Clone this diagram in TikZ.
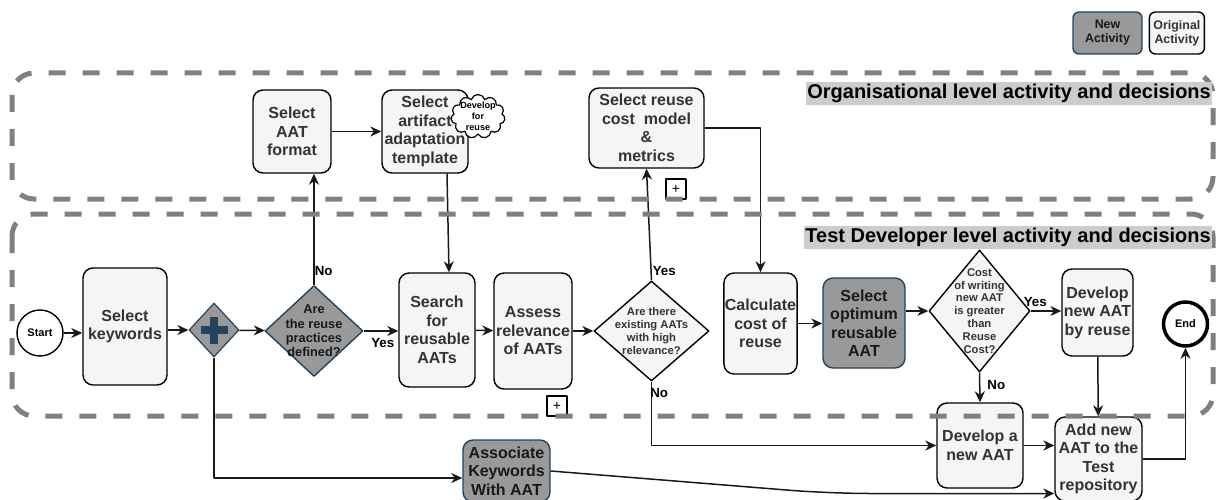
\documentclass[tikz,border=0pt]{standalone}
\usepackage{fontspec}
\setmainfont{Liberation Sans}
\usetikzlibrary{positioning, arrows.meta, shapes.geometric, shapes.symbols}

\definecolor{boxfill}{HTML}{F5F5F5}
\definecolor{boxtext}{HTML}{333333}
\definecolor{newfill}{HTML}{999999}
\definecolor{newline}{HTML}{23445D}
\definecolor{lanegray}{HTML}{808080}
\definecolor{headfill}{HTML}{CCCCCC}

\begin{document}
\begin{tikzpicture}[x=1pt, y=-1pt, line join=round,
			activity/.style={draw=black, line width=1.4pt, rectangle, rounded corners=10pt, fill=boxfill, text=boxtext, align=center, inner sep=1pt, font=\fontsize{16}{18.5}\selectfont\bfseries},
			newactivity/.style={activity, fill=newfill, draw=newline, text=black!90},
			decision/.style={draw=black, line width=1.4pt, diamond, fill=boxfill, text=boxtext, align=center, inner sep=-14pt, font=\fontsize{11.2}{12.9}\selectfont\bfseries},
			gateway/.style={diamond, draw=newline, line width=1.2pt, fill=newfill, minimum width=50pt, minimum height=54pt, inner sep=0pt},
			event/.style={circle, draw=black, line width=1.4pt, fill=white, minimum size=46pt, inner sep=0pt, font=\fontsize{11}{13}\selectfont\bfseries},
			subproc/.style={draw=black, line width=1.2pt, fill=white, minimum size=20pt, inner sep=0pt, font=\fontsize{14}{14}\selectfont},
			lane/.style={draw=lanegray, line width=5pt, dash pattern=on 17pt off 17pt, rounded corners=22pt},
			lanehead/.style={fill=headfill, text=black, inner sep=1pt, minimum height=23pt, font=\fontsize{20}{24}\selectfont\bfseries},
			arrow/.style={line width=1.5pt, draw=black!90, -{Stealth[length=11pt, width=10pt, inset=3.5pt]}},
			answer/.style={font=\fontsize{13.3}{15}\selectfont\bfseries, text=black, inner sep=1pt}
			]
			\useasboundingbox (0,0) rectangle (1218,500);
			% legend
			\node[newactivity, rounded corners=6pt, minimum width=69pt, minimum height=42pt, font=\fontsize{12.4}{14}\selectfont\bfseries] (legnew) at (1107.5,33) {New\\Activity};
			\node[activity, rounded corners=6pt, minimum width=55pt, minimum height=42pt, font=\fontsize{12.4}{14}\selectfont\bfseries, right=6pt of legnew] (legorig) {Original\\Activity};
			% organisational level
			\node[activity, minimum width=78pt, minimum height=83pt] (aatformat) at (292,131.5) {Select\\AAT\\format};
			\node[activity, minimum width=86pt, minimum height=83pt] (template) at (425,131.5) {Select\\artifact\\adaptation\\template};
			\node[cloud, cloud puffs=11, aspect=1.25, draw=black, line width=1.2pt, fill=white, minimum width=54pt, minimum height=44pt, inner sep=-6pt, align=center, font=\fontsize{9.1}{11}\selectfont\bfseries] (forreuse) at (478,116.5) {Develop\\for\\reuse};
			\node[activity, minimum width=115pt, minimum height=80pt] (costmodel) at (646.5,128) {Select reuse\\cost~ model\\\&\\metrics};
			\node[subproc] (plusa) at (676,189) {+};
			% test developer level
			\node[event] (start) at (40,333) {Start};
			\node[activity, minimum width=84pt, minimum height=117pt] (keywords) at (125,326.5) {Select\\keywords};
			\node[gateway] (plus) at (214,330) {};
			\draw[newline, line width=7.5pt] ([xshift=-13.5pt]plus.center) -- ([xshift=13.5pt]plus.center);
			\draw[newline, line width=7.5pt] ([yshift=-13.5pt]plus.center) -- ([yshift=13.5pt]plus.center);
			\node[decision, fill=newfill, draw=newline, text=black!90, minimum width=98pt, minimum height=91pt, font=\fontsize{12.8}{14.3}\selectfont\bfseries] (practices) at (314,331) {Are\\the reuse\\practices\\defined?};
			\node[activity, minimum width=76pt, minimum height=114pt] (search) at (437,330) {Search\\for\\reusable\\AATs};
			\node[activity, minimum width=78pt, minimum height=116pt] (assess) at (533,331) {Assess\\relevance\\of AATs};
			\node[subproc] (plusb) at (557,406) {+};
			\node[decision, minimum width=115pt, minimum height=100pt] (relevance) at (651.5,331) {Are there\\existing AATs\\with high\\relevance?};
			\node[activity, minimum width=73pt, minimum height=101pt] (calc) at (760.5,323.5) {Calculate\\cost of\\reuse};
			\node[newactivity, minimum width=82pt, minimum height=90pt] (optimum) at (864,323) {Select\\optimum\\reusable\\AAT};
			\node[decision, minimum width=101pt, minimum height=122pt] (worth) at (979.5,311) {Cost\\of writing\\new AAT\\is greater\\than\\Reuse\\Cost?};
			\node[activity, minimum width=71pt, minimum height=87pt] (devreuse) at (1097.5,312.5) {Develop\\new AAT\\by reuse};
			\node[event, line width=3.5pt, minimum size=44pt] (end) at (1185.5,324) {End};
			\node[activity, minimum width=86pt, minimum height=85pt] (devnew) at (980,445.5) {Develop a\\new AAT};
			\node[activity, minimum width=87pt, minimum height=84pt] (addrepo) at (1098.5,459) {Add new\\AAT to the\\Test\\repository};
			\node[newactivity, minimum width=87pt, minimum height=62pt] (associate) at (506.5,471) {Associate\\Keywords\\With AAT};
			\coordinate (bend) at (830,493.5);
			% connectors
			\draw[arrow] (start.east) -- (start.east -| keywords.west);
			\draw[arrow] (plus.west -| keywords.east) -- (plus.west);
			\draw[arrow] (plus) -- (practices);
			\draw[arrow] (practices.east) -- (practices.east -| search.west) node[answer, pos=0.55, below=6pt] {Yes};
			\draw[arrow] (practices.north) -- (practices.north |- aatformat.south) node[answer, pos=0.12, anchor=west, xshift=-1pt] {No};
			\draw[arrow] (aatformat) -- (template);
			\draw[arrow] ([xshift=22pt]template.south) -- ([xshift=12pt]search.north);
			\draw[arrow] (search) -- (assess);
			\draw[arrow] (assess) -- (relevance);
			\draw[arrow] (relevance.north) -- (costmodel.south) node[answer, pos=0.08, anchor=west] {Yes};
			\draw[arrow] (relevance.south) |- (devnew.west) node[answer, pos=0.09, anchor=west, xshift=-3pt] {No};
			\draw[arrow] (costmodel.east) -| (calc.north);
			\draw[arrow] (calc.east) -- (calc.east -| optimum.west);
			\draw[arrow] (optimum.east |- worth.west) -- (worth.west);
			\draw[arrow] (worth.east) -- (worth.east -| devreuse.west) node[answer, pos=0.15, above=3pt] {Yes};
			\draw[arrow] (worth.south) -- (devnew.north) node[answer, pos=0.42, right=6pt] {No};
			\draw[arrow] (devreuse) -- (addrepo);
			\draw[arrow] (devnew.east) -- (devnew.east -| addrepo.west);
			\draw[arrow] (addrepo.east) -| (end.south);
			\draw[arrow] (plus.south) |- ([yshift=-7pt]associate.west);
			\draw[arrow, rounded corners=40pt] (associate.east) -- (bend) -- ([yshift=-34.5pt]addrepo.west);
			% lanes
			\draw[lane] (12,73) rectangle (1213,199);
			\draw[lane] (12,214) rectangle (1213,416);
			\node[lanehead, anchor=east] (orghead) at (1212,93.5) {Organisational level activity and decisions};
			\node[lanehead, anchor=east] (devhead) at (1212,237) {Test Developer level activity and decisions};
		\end{tikzpicture}
\end{document}
